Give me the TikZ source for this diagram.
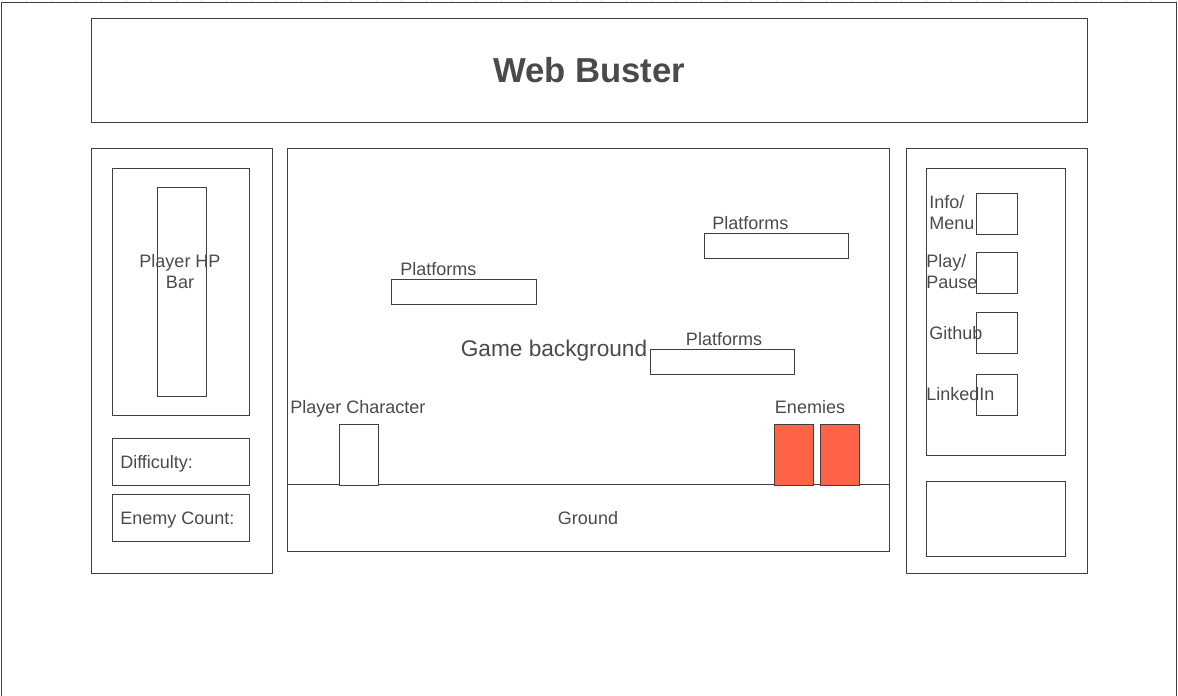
\documentclass[tikz,border=0pt]{standalone}
\usepackage{fontspec}
\setmainfont{Liberation Sans}
\usepackage{xcolor}
\definecolor{linegrey}{HTML}{3F3F3F}
\definecolor{textgrey}{HTML}{4A4A4A}
\definecolor{gridgrey}{HTML}{E6E6E6}
\definecolor{enemyred}{HTML}{FF6347}
\tikzset{
  box/.style={draw=linegrey, line width=0.75pt},
  lbl/.style={text=textgrey, inner sep=0pt, font=\fontsize{13.5}{15.75}\selectfont},
}

\begin{document}
\begin{tikzpicture}[x=0.75pt, y=-0.75pt]
			\useasboundingbox (0,0) rectangle (1178,696);
			% grid showing above the frame
			\foreach \gx in {26,51,...,1176}
				\draw[gridgrey, line width=0.5pt] (\gx,0) -- (\gx,2);
			\draw[box] (1,700) -- (1,2) -- (1176,2) -- (1176,700);
			% title bar
			\draw[box] (91,18) rectangle (1087,122);
			\node[lbl, font=\fontsize{26}{30}\selectfont\bfseries] (title) at (589,70) {Web Buster};
			% left panel
			\draw[box] (91,148) rectangle (272,573);
			\draw[box] (112,168) rectangle (249,415);
			\draw[box] (157,187) rectangle (206,396);
			\node[lbl, align=center] (hpbar) at (180,272) {Player HP\\Bar};
			\draw[box] (112,438) rectangle (249,485);
			\node[lbl, anchor=west] (difficulty) at (120,464) {Difficulty:};
			\draw[box] (112,494) rectangle (249,541);
			\node[lbl, anchor=west] (enemycount) at (120,520) {Enemy Count:};
			% game area
			\draw[box] (287,148) rectangle (889,551);
			\coordinate (groundL) at (287,484);
			\coordinate (groundR) at (889,484);
			\draw[box] (groundL) -- (groundR);
			\node[lbl] (ground) at (588,518) {Ground};
			\node[lbl, font=\fontsize{17}{20}\selectfont] (gamebg) at (554,351) {Game background};
			\draw[box] (391,279) rectangle (536,304);
			\node[lbl, anchor=west] (platA) at (400,269) {Platforms};
			\draw[box] (704,233) rectangle (848,258);
			\node[lbl, anchor=west] (platB) at (712,223) {Platforms};
			\draw[box] (650,349) rectangle (794,374);
			\node[lbl] (platC) at (724,339) {Platforms};
			\node[lbl, anchor=west] (playerlbl) at (290,409) {Player Character};
			\draw[box, fill=white] (339,424) rectangle (378,485);
			\node[lbl] (enemylbl) at (810,407) {Enemies};
			\draw[box, fill=enemyred] (774,424) rectangle (813,485);
			\draw[box, fill=enemyred] (820,424) rectangle (859,485);
			% right panel
			\draw[box] (906,148) rectangle (1087,573);
			\draw[box] (926,168) rectangle (1065,455);
			\foreach \by in {193,252,312,374}
				\draw[box] (976,\by) rectangle (1017,\by+41);
			\node[lbl, anchor=west, align=left] (info) at (929,212.5) {Info/\\Menu};
			\node[lbl, anchor=west, align=left] (play) at (926,271.5) {Play/\\Pause};
			\node[lbl, anchor=west] (github) at (929,333) {Github};
			\node[lbl, anchor=west] (linkedin) at (926,394) {LinkedIn};
			\draw[box] (926,481) rectangle (1065,556);
		\end{tikzpicture}
\end{document}
